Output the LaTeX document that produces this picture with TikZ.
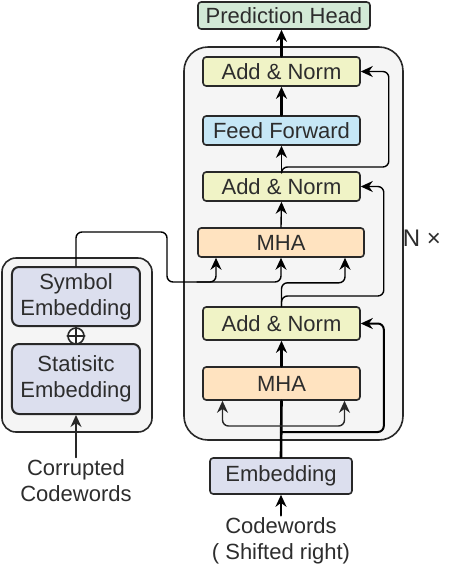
\documentclass[tikz,border=0pt]{standalone}
\usepackage{fontspec}
\setmainfont{Liberation Sans}
\usepackage{xcolor}
\usetikzlibrary{arrows.meta,calc}
\definecolor{boxline}{RGB}{40,40,40}
\definecolor{txt}{RGB}{45,45,45}
\definecolor{panel}{RGB}{245,245,245}
\definecolor{headfill}{RGB}{210,233,214}
\definecolor{normfill}{RGB}{240,243,198}
\definecolor{ffnfill}{RGB}{198,231,246}
\definecolor{mhafill}{RGB}{255,227,192}
\definecolor{embfill}{RGB}{220,223,238}

\begin{document}
\begin{tikzpicture}[x=0.5pt,y=-0.5pt,line cap=round,line join=round,>={Stealth[length=6pt,width=5.5pt]},
    blk/.style={draw=boxline,line width=0.8pt,rounded corners=1.6pt,inner sep=0pt,text=txt,align=center,font=\fontsize{11}{13}\selectfont},
    lbl/.style={text=txt,align=center,inner sep=1pt,font=\fontsize{11}{13}\selectfont},
    wire/.style={draw=black,line width=0.7pt,rounded corners=3pt},
    bus/.style={draw=black,line width=1.3pt}]
                \useasboundingbox (0,0) rectangle (454,570);
                % containers
                \draw [fill=panel,draw=boxline,line width=0.8pt,rounded corners=12pt] (184,47) rectangle (403,440);
                \draw [fill=panel,draw=boxline,line width=0.8pt,rounded corners=7pt] (2,258) rectangle (152,432);
                % decoder stack
                \node [blk,fill=headfill,minimum width=86pt,minimum height=13.5pt] (head) at (284,15.5) {Prediction Head};
                \node [blk,fill=normfill,minimum width=78.5pt,minimum height=14.5pt] (addA) at (281.5,71.5) {Add \& Norm};
                \node [blk,fill=ffnfill,minimum width=78.5pt,minimum height=14.5pt] (ffn) at (281.5,130.5) {Feed Forward};
                \node [blk,fill=normfill,minimum width=78.5pt,minimum height=14.5pt] (addB) at (281.5,186.5) {Add \& Norm};
                \node [blk,fill=mhafill,minimum width=83pt,minimum height=14.5pt] (mhaA) at (281,242.5) {MHA};
                \node [blk,fill=normfill,minimum width=78.5pt,minimum height=16.5pt] (addC) at (281.5,323.5) {Add \& Norm};
                \node [blk,fill=mhafill,minimum width=78.5pt,minimum height=16.5pt] (mhaB) at (281.5,383.5) {MHA};
                \node [blk,fill=embfill,minimum width=71pt,minimum height=18pt] (emb) at (281,476) {Embedding};
                \node [lbl] (codewords) at (281,541) {Codewords\\( Shifted right)};
                \node [lbl,font=\fontsize{12}{14}\selectfont] (rep) at (422,238) {N ×};
                % encoder side
                \node [blk,fill=embfill,line width=1pt,rounded corners=3.5pt,minimum width=64pt,minimum height=29.5pt] (sym) at (76,296.5) {Symbol\\Embedding};
                \node [circle,draw=boxline,fill=white,line width=0.8pt,minimum size=8pt,inner sep=0pt] (plus) at (76,336) {};
                \draw [line width=0.8pt,boxline] (plus.north) -- (plus.south) (plus.west) -- (plus.east);
                \node [blk,fill=embfill,line width=1pt,rounded corners=3.5pt,minimum width=64pt,minimum height=35pt] (stat) at (76,379) {Statisitc\\Embedding};
                \node [lbl] (corrupted) at (76,481) {Corrupted\\Codewords};
                % tap points
                \coordinate (resB) at (281,432);
                \coordinate (qB) at (281,426);
                \coordinate (kv) at (167,282);
                % connectors
                \draw [bus,->] (codewords.north) -- (emb.south);
                \draw [bus] (emb.north) -- (mhaB.south);
                \draw [wire,line width=1pt,->] (resB) -| ($(addC.east)+(23,0)$) -- (addC.east);
                \draw [wire,draw=boxline,->] (qB) -| ($(mhaB.south)+(-59,0)$);
                \draw [wire,draw=boxline,->] (qB) -| ($(mhaB.south)+(63,0)$);
                \draw [bus,->] (mhaB.north) -- (addC.south);
                \draw [wire,->] (addC.north) |- ($(addB.east)+(23,109.5)$) -- ($(addB.east)+(23,0)$) -- (addB.east);
                \draw [wire,->] (addC.north) |- ($(mhaA.south)+(64,25)$) -- ($(mhaA.south)+(64,0)$);
                \draw [wire,->] (sym.north) |- ($(kv)+(0,-50)$) -- (kv) -| (mhaA.south);
                \draw [wire,->] ($(kv)+(30,0)$) -| ($(mhaA.south)+(-65,0)$);
                \draw [wire,->] (mhaA.north) -- (addB.south);
                \draw [wire,->] (addB.north) -- (ffn.south);
                \draw [wire,->] (addB.north) |- ($(addA.east)+(28,95.5)$) -- ($(addA.east)+(28,0)$) -- (addA.east);
                \draw [bus,->] (ffn.north) -- (addA.south);
                \draw [bus,->] (addA.north) -- (addA.north |- head.south);
                \draw [wire,draw=boxline,->] (corrupted.north) -- (stat.south);
\end{tikzpicture}
\end{document}
